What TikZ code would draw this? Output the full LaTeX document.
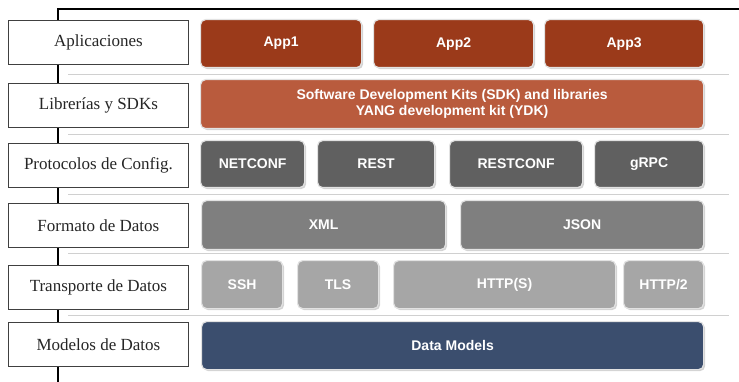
\documentclass[tikz,border=0pt]{standalone}
\usepackage{fontspec}
\setmainfont{Liberation Serif}
\setsansfont{Liberation Sans}
\usetikzlibrary{shadows}
\definecolor{appc}{HTML}{9B3A1A}
\definecolor{sdkc}{HTML}{B95B3D}
\definecolor{protc}{HTML}{606060}
\definecolor{fmtc}{HTML}{7F7F7F}
\definecolor{trnc}{HTML}{A6A6A6}
\definecolor{dmc}{HTML}{3B4E6E}
\definecolor{sepc}{HTML}{D0D0D0}
\definecolor{edgec}{HTML}{E2E2E2}
\begin{document}
\begin{tikzpicture}[x=1pt,y=-1pt,
  lbl/.style={draw=black!75, line width=0.8pt, fill=white, anchor=north west,
    minimum width=180pt, minimum height=44pt, inner sep=0pt, text=black!85,
    font=\fontsize{17}{20}\selectfont},
  blk/.style={draw=edgec, line width=1.2pt, rounded corners=5pt, anchor=north west,
    inner sep=0pt, text=white, align=center,
    font=\sffamily\bfseries\fontsize{14}{16}\selectfont,
    drop shadow={opacity=0.35, shadow xshift=1.5pt, shadow yshift=-1.5pt}},
  sep/.style={draw=sepc, line width=0.8pt},
  spine/.style={draw=black, line width=1.6pt}]
\useasboundingbox (0,0) rectangle (739,382);
% spine
\coordinate (top) at (58,9);
\coordinate (topr) at (739,9);
\coordinate (bot) at (58,382);
\draw[spine] (topr) -- (top) -- (bot);
% separators
\foreach \yy/\nm in {74/s1,134/s2,194/s3,253/s4,315/s5}{
  \coordinate (\nm a) at (68,\yy);
  \coordinate (\nm b) at (729,\yy);
  \draw[sep] (\nm a) -- (\nm b);
}
% left labels
\node[lbl] (l1) at (8,20) {Aplicaciones};
\node[lbl] (l2) at (8,83) {Librerías y SDKs};
\node[lbl] (l3) at (8,143) {Protocolos de Config.};
\node[lbl] (l4) at (8,203) {Formato de Datos};
\node[lbl] (l5) at (8,265) {Transporte de Datos};
\node[lbl] (l6) at (8,322) {Modelos de Datos};
% row 1
\node[blk, fill=appc, minimum width=161pt, minimum height=48pt] (app1) at (200,19) {App1};
\node[blk, fill=appc, minimum width=160pt, minimum height=48pt] (app2) at (373,19) {App2};
\node[blk, fill=appc, minimum width=159pt, minimum height=48pt] (app3) at (544,19) {App3};
% row 2
\node[blk, fill=sdkc, minimum width=503pt, minimum height=49pt] (sdk) at (200,79)
  {Software Development Kits (SDK) and libraries\\YANG development kit (YDK)};
% row 3
\node[blk, fill=protc, minimum width=104pt, minimum height=47pt] (netconf) at (200,140) {NETCONF};
\node[blk, fill=protc, minimum width=117pt, minimum height=47pt] (rest) at (317,140) {REST};
\node[blk, fill=protc, minimum width=133pt, minimum height=47pt] (restconf) at (449,140) {RESTCONF};
\node[blk, fill=protc, minimum width=109pt, minimum height=47pt] (grpc) at (594,140) {gRPC};
% row 4
\node[blk, fill=fmtc, minimum width=244pt, minimum height=49pt] (xml) at (201,200) {XML};
\node[blk, fill=fmtc, minimum width=243pt, minimum height=49pt] (json) at (460,200) {JSON};
% row 5
\node[blk, fill=trnc, minimum width=81pt, minimum height=48pt] (ssh) at (201,260) {SSH};
\node[blk, fill=trnc, minimum width=81pt, minimum height=48pt] (tls) at (297,260) {TLS};
\node[blk, fill=trnc, minimum width=222pt, minimum height=48pt] (https) at (393,260) {HTTP(S)};
\node[blk, fill=trnc, minimum width=80pt, minimum height=48pt] (http2) at (623,260) {HTTP/2};
% row 6
\node[blk, fill=dmc, minimum width=502pt, minimum height=48pt] (dm) at (201,321) {Data Models};
\end{tikzpicture}
\end{document}
